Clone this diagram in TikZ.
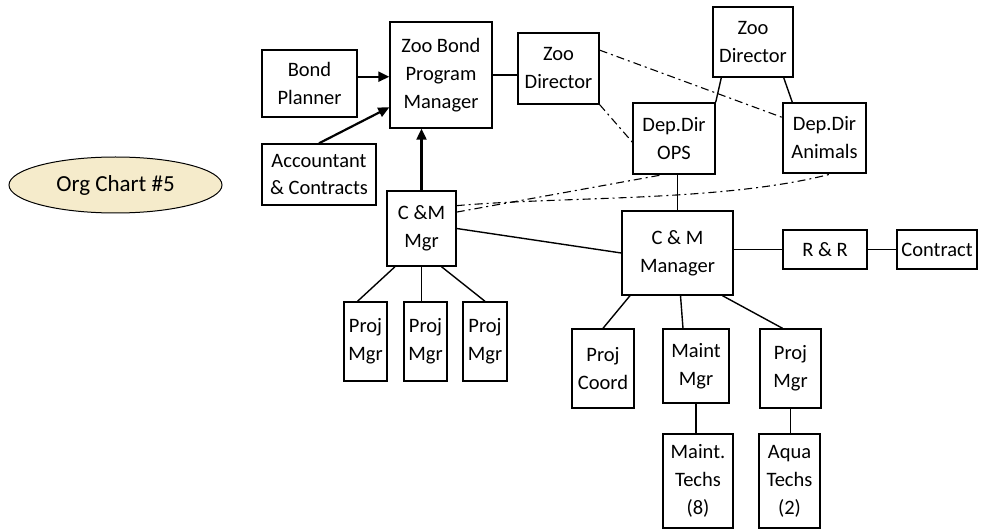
\documentclass[tikz,border=0pt]{standalone}
\usepackage{fontspec}
\setmainfont{Carlito}
\usetikzlibrary{arrows.meta,shapes.geometric}

\definecolor{cream}{HTML}{F5EBCB}
\tikzset{box/.style={draw,line width=1.4pt,align=center,inner sep=0pt,
  font=\fontsize{20.5}{28}\selectfont}}
\tikzset{dd/.style={line width=1.1pt,dash pattern=on 8pt off 4pt on 2pt off 4pt}}
\tikzset{up/.style={line width=2.2pt,-{Triangle[length=11pt,width=10pt]}}}

\begin{document}
\begin{tikzpicture}[x=1pt,y=-1pt,line width=1.4pt]
  \useasboundingbox (0,0) rectangle (982,529);
  \node [ellipse,draw,line width=1pt,fill=cream,minimum width=213pt,minimum height=56pt,
    font=\fontsize{23}{26}\selectfont] (OC) at (115.5,185) {Org Chart \#5};
  \node [box,minimum width=95pt,minimum height=67pt] (BP) at (309.5,83.5) {Bond\\Planner};
  \node [box,minimum width=102pt,minimum height=106pt] (ZBPM) at (441,75) {Zoo Bond\\Program\\Manager};
  \node [box,minimum width=114pt,minimum height=61pt] (ACC) at (319,174.5) {Accountant\\\& Contracts};
  \node [box,minimum width=69pt,minimum height=75pt] (CMM) at (421.5,228.5) {C \&M\\Mgr};
  \node [box,minimum width=81pt,minimum height=71pt] (ZD1) at (558.5,68.5) {Zoo\\Director};
  \node [box,minimum width=80pt,minimum height=70pt] (ZD2) at (753,42) {Zoo\\Director};
  \node [box,minimum width=82pt,minimum height=71pt] (DDO) at (674,138.5) {Dep.Dir\\OPS};
  \node [box,minimum width=83pt,minimum height=70pt] (DDA) at (824.5,138) {Dep.Dir\\Animals};
  \node [box,minimum width=111pt,minimum height=84pt] (CMMAN) at (677.5,253) {C \& M\\Manager};
  \node [box,minimum width=84pt,minimum height=39pt] (RR) at (825,249.5) {R \& R};
  \node [box,minimum width=80pt,minimum height=39pt] (CON) at (937,249.5) {Contract};
  \node [box,minimum width=43pt,minimum height=79pt] (PM1) at (365.5,341.5) {Proj\\Mgr};
  \node [box,minimum width=43pt,minimum height=79pt] (PM2) at (425.5,341.5) {Proj\\Mgr};
  \node [box,minimum width=44pt,minimum height=79pt] (PM3) at (485,341.5) {Proj\\Mgr};
  \node [box,minimum width=62pt,minimum height=79pt] (PC) at (603,368.5) {Proj\\Coord};
  \node [box,minimum width=66pt,minimum height=74pt] (MM) at (696,366) {Maint\\Mgr};
  \node [box,minimum width=61pt,minimum height=79pt] (PM4) at (790.5,368.5) {Proj\\Mgr};
  \node [box,minimum width=70pt,minimum height=94pt] (MT) at (698,481) {Maint.\\Techs\\(8)};
  \node [box,minimum width=61pt,minimum height=94pt] (AT) at (789.5,481) {Aqua\\Techs\\(2)};
  % arrows into the bond program manager
  \draw [up] (BP.8) -- (BP.8 -| ZBPM.west);
  \draw [up] (ACC.north) -- (ZBPM.212);
  \draw [up] (CMM.north) -- (CMM.north |- ZBPM.south);
  % solid lines
  \draw (ZBPM.east) -- (ZBPM.east -| ZD1.west);
  \draw ([xshift=9pt]ZD2.south west) -- (DDO.north east);
  \draw ([xshift=-10pt]ZD2.south east) -- ([xshift=10pt]DDA.north west);
  \draw (CMMAN.north) -- (CMMAN.north |- DDO.south);
  \draw (CMM.east) -- (CMMAN.west);
  \draw (RR.west -| CMMAN.east) -- (RR.west);
  \draw (RR.east) -- (CON.west);
  \draw ([xshift=-26.5pt]CMM.south) -- ([xshift=-8pt]PM1.north);
  \draw (CMM.south) -- (CMM.south |- PM2.north);
  \draw ([xshift=20pt]CMM.south) -- (PM3.north);
  \draw ([xshift=-47.5pt]CMMAN.south) -- (PC.north);
  \draw ([xshift=3pt]CMMAN.south) -- ([xshift=-13pt]MM.north);
  \draw ([xshift=45pt]CMMAN.south) -- ([xshift=-8pt]PM4.north);
  \draw (MM.south) -- (MM.south |- MT.north);
  \draw (PM4.south) -- (PM4.south |- AT.north);
  % dash dot links
  \draw [dd] (ZD1.24.5) -- (DDA.154);
  \draw [dd] (ZD1.south east) -- (DDO.185);
  \draw [dd] (CMM.25) -- (DDO.253);
  \draw [dd] (CMM.33) .. controls (569,196) and (724,202) .. (DDA.-78);
\end{tikzpicture}
\end{document}
